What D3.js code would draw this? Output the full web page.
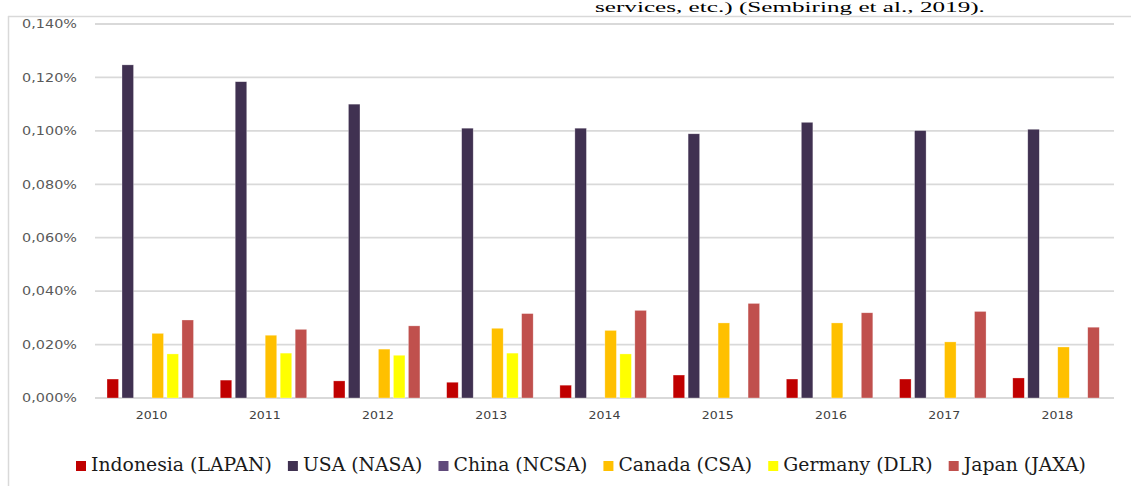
<!DOCTYPE html>
<html>
<head>
<meta charset="utf-8">
<script src="https://cdn.jsdelivr.net/npm/d3@7"></script>
<style>
  html, body { margin: 0; padding: 0; background: #fff; overflow: hidden; }
  svg { display: block; }
</style>
</head>
<body>
<svg id="chart" width="1131" height="486"></svg>
<script>
// ---- data ----
const years = ["2010","2011","2012","2013","2014","2015","2016","2017","2018"];
const seriesNames = ["Indonesia (LAPAN)","USA (NASA)","China (NCSA)","Canada (CSA)","Germany (DLR)","Japan (JAXA)"];
const indonesia = [0.0071,0.0067,0.0064,0.0059,0.0048,0.0086,0.0071,0.0071,0.0075];
const usa       = [0.1247,0.1184,0.1100,0.1010,0.1010,0.0989,0.1032,0.1001,0.1006];
const china     = [0,0,0,0,0,0,0,0,0];
const canada    = [0.0242,0.0235,0.0183,0.0261,0.0253,0.0281,0.0281,0.0210,0.0191];
const germany   = [0.0165,0.0168,0.0160,0.0168,0.0165,null,null,null,null];
const japan     = [0.0292,0.0257,0.0270,0.0316,0.0328,0.0354,0.0319,0.0324,0.0265];
const yTicks    = [0,0.02,0.04,0.06,0.08,0.10,0.12,0.14];
const topText   = "services, etc.) (Sembiring et al., 2019).";

const seriesValues = [indonesia, usa, china, canada, germany, japan];
const colors = ["#C00000","#403151","#604A7B","#FFC000","#FFFF00","#C0504D"];

const svg = d3.select("#chart");

// document text above chart
const tt = svg.append("text")
  .attr("font-family","Liberation Serif, serif")
  .attr("font-size",14)
  .attr("fill","#000")
  .text(topText);
{
  const w = tt.node().getComputedTextLength();
  const k = 390 / w;
  tt.attr("transform",`translate(595,12) scale(${k},1)`);
}

// chart frame
svg.append("line").attr("x1",8.5).attr("x2",8.5).attr("y1",16).attr("y2",486)
  .attr("stroke","#d9d9d9").attr("stroke-width",1.5);
svg.append("line").attr("x1",8).attr("x2",1131).attr("y1",16.5).attr("y2",16.5)
  .attr("stroke","#d9d9d9").attr("stroke-width",1.5);

// scales
const x0 = d3.scaleBand().domain(years).range([95,1114]).paddingInner(0).paddingOuter(0);
const x1 = d3.scaleBand().domain(seriesNames).range([12,98.5]).paddingInner(0.23).paddingOuter(0);
const y = d3.scaleLinear().domain([0,0.14]).range([398,24]);

// gridlines
svg.append("g").selectAll("line").data(yTicks).join("line")
  .attr("x1",95).attr("x2",1114)
  .attr("y1",d=>y(d)).attr("y2",d=>y(d))
  .attr("stroke","#d9d9d9").attr("stroke-width",1.8);

// y labels
const fmt = d => d.toFixed(3).replace(".",",") + "%";
svg.append("g").selectAll("text").data(yTicks).join("text")
  .attr("transform",d=>`translate(77,${y(d)}) scale(1.2,1)`)
  .attr("dy","0.36em")
  .attr("text-anchor","end")
  .attr("font-family","DejaVu Sans, sans-serif")
  .attr("font-size",12)
  .attr("fill","#595959")
  .text(fmt);

// x labels
svg.append("g").selectAll("text").data(years).join("text")
  .attr("transform",d=>`translate(${x0(d)+x0.bandwidth()/2},419) scale(1.14,1)`)
  .attr("text-anchor","middle")
  .attr("font-family","DejaVu Sans, sans-serif")
  .attr("font-size",11)
  .attr("fill","#404040")
  .text(d=>d);

// bars
const flat = [];
years.forEach((yr,i)=>{
  seriesNames.forEach((s,j)=>{
    const v = seriesValues[j][i];
    if (v !== null && v > 0) flat.push({yr, s, v, c: colors[j]});
  });
});
svg.append("g").selectAll("rect").data(flat).join("rect")
  .attr("x",d=>x0(d.yr)+x1(d.s))
  .attr("width",x1.bandwidth())
  .attr("y",d=>y(d.v))
  .attr("height",d=>y(0)-y(d.v))
  .attr("fill",d=>d.c)
  .attr("stroke","#ffffff")
  .attr("stroke-opacity",0.5)
  .attr("stroke-width",0.6);

// legend
const lg = svg.append("g");
const items = seriesNames.map((s,j)=>{
  const g = lg.append("g");
  const t = g.append("text")
    .attr("font-family","DejaVu Serif, serif")
    .attr("font-size",19)
    .attr("fill","#1a1a1a")
    .text(s);
  return {g, t, w: t.node().getComputedTextLength(), c: colors[j]};
});
const totalW = 1086 - 76;
const sq = 10, sqGap = 5, itemGap = 16;
const sumText = d3.sum(items, d=>d.w);
const k = (totalW - items.length*(sq+sqGap) - (items.length-1)*itemGap) / sumText;
let cx = 76;
items.forEach(it=>{
  it.g.append("rect").attr("x",cx).attr("y",461).attr("width",sq).attr("height",sq).attr("fill",it.c);
  const tx = cx + sq + sqGap;
  it.t.attr("transform",`translate(${tx},471) scale(${k},1)`);
  cx = tx + it.w*k + itemGap;
});
</script>
</body>
</html>
